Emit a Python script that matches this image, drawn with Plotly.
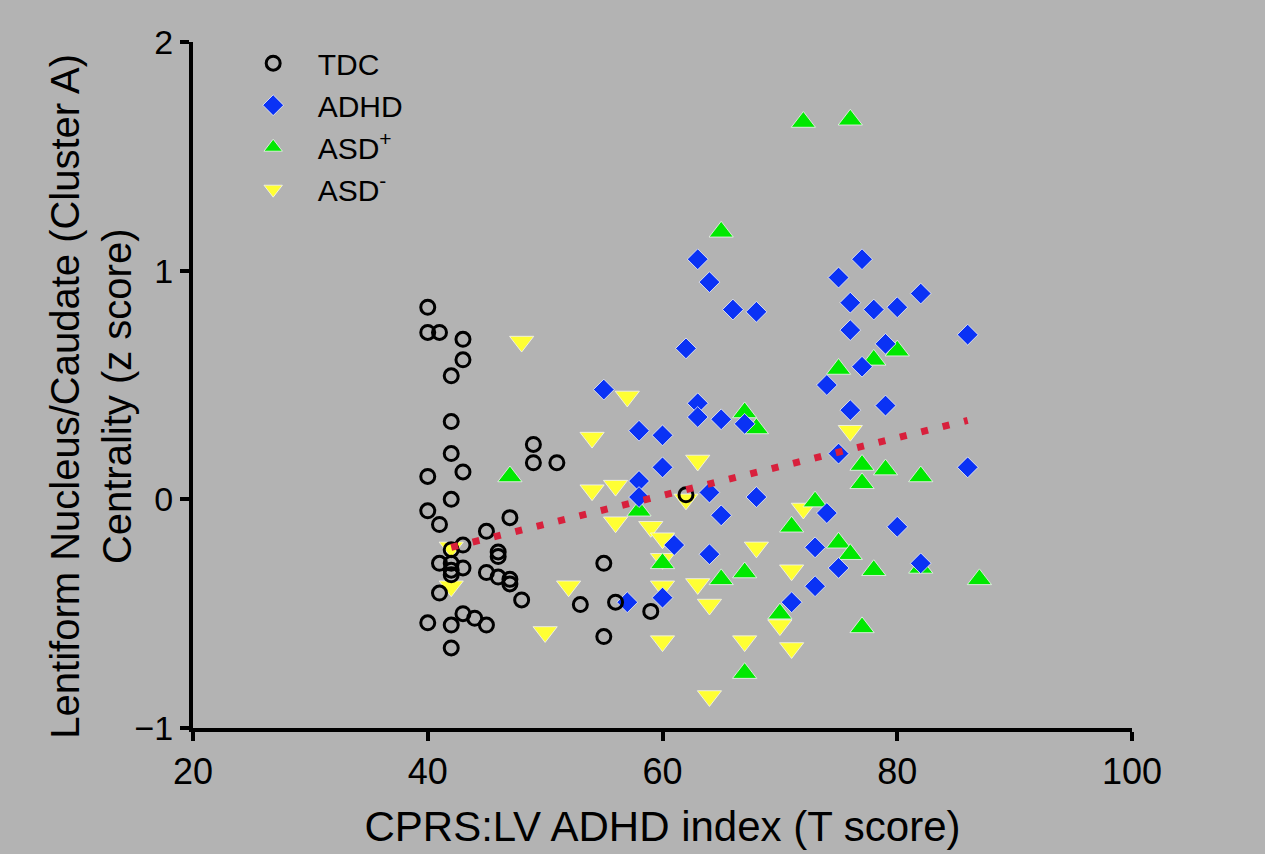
import plotly.graph_objects as go

# ---- data ----
tdc_x = [40, 40, 41, 43, 43, 42, 42, 42, 43, 40, 49, 49, 51, 42, 40, 41, 47, 45, 43, 42,
         46, 46, 41, 42, 43, 42, 42, 45, 46, 47, 47, 41, 48, 43, 44, 45, 40, 42, 42,
         55, 53, 56, 59, 55, 62]
tdc_y = [0.84, 0.73, 0.73, 0.70, 0.61, 0.54, 0.34, 0.20, 0.12, 0.10, 0.24, 0.16, 0.16, 0.00, -0.05, -0.11, -0.08, -0.14, -0.20, -0.22,
         -0.23, -0.25, -0.28, -0.28, -0.30, -0.31, -0.33, -0.32, -0.34, -0.35, -0.37, -0.41, -0.44, -0.50, -0.52, -0.55, -0.54, -0.55, -0.65,
         -0.28, -0.46, -0.45, -0.49, -0.60, 0.02]

adhd_x = [55, 58, 60, 60, 58, 58, 57, 60, 61, 62, 63, 64, 66, 68, 63, 63, 65, 67, 64, 65, 64, 68,
          71, 73, 73, 74, 75, 75, 74, 76, 77, 76, 76, 75, 77, 78, 80, 82, 79, 79, 86, 86, 80, 82]
adhd_y = [0.48, 0.30, 0.28, 0.14, 0.08, 0.01, -0.45, -0.43, -0.20, 0.66, 1.05, 0.95, 0.83, 0.82, 0.42, 0.36, 0.35, 0.33, 0.03, -0.07, -0.24, 0.01,
          -0.45, -0.38, -0.21, -0.06, -0.30, 0.20, 0.50, 0.39, 0.58, 0.74, 0.86, 0.97, 1.05, 0.83, 0.84, 0.90, 0.68, 0.41, 0.72, 0.14, -0.12, -0.28]

asdp_x = [47, 58, 60, 65, 65, 67, 67, 67, 68, 70, 71, 72, 73, 75, 75, 76, 76, 77, 77, 77, 78, 78, 79, 80, 82, 82, 87]
asdp_y = [0.10, -0.05, -0.28, 1.17, -0.35, 0.38, -0.32, -0.76, 0.31, -0.50, -0.12, 1.65, -0.01, 0.57, -0.19, 1.66, -0.24, 0.15, 0.07, -0.56, 0.61, -0.31, 0.13, 0.65, 0.10, -0.30, -0.35]

asdm_x = [42, 42, 48, 50, 52, 54, 54, 56, 56, 57, 59, 60, 60, 60, 60, 62, 63, 63, 64, 64, 67, 68, 70, 71, 71, 72, 76]
asdm_y = [-0.21, -0.38, 0.69, -0.58, -0.38, 0.27, 0.04, 0.06, -0.10, 0.45, -0.12, -0.17, -0.26, -0.38, -0.62, 0.00, 0.17, -0.37, -0.46, -0.86, -0.62, -0.21, -0.55, -0.31, -0.65, -0.04, 0.30]

trend_x = [42, 86]
trend_y = [-0.21, 0.345]

x_ticks = [20, 40, 60, 80, 100]
y_ticks = [-1, 0, 1, 2]

x_title = "CPRS:LV ADHD index (T score)"
y_title = "Lentiform Nucleus/Caudate (Cluster A)<br>Centrality (z score)"

FONT = "Liberation Sans, Arial, sans-serif"
BG = "#b3b3b3"

fig = go.Figure()
fig.add_trace(go.Scatter(x=asdm_x, y=asdm_y, mode="markers", name="ASD<sup>-</sup>",
                         marker=dict(symbol="triangle-down", size=21, color="#ffff33",
                                     line=dict(color="#f4f4f4", width=0.8))))
fig.add_trace(go.Scatter(x=asdp_x, y=asdp_y, mode="markers", name="ASD<sup>+</sup>",
                         marker=dict(symbol="triangle-up", size=21, color="#00e800",
                                     line=dict(color="#f4f4f4", width=0.8))))
fig.add_trace(go.Scatter(x=adhd_x, y=adhd_y, mode="markers", name="ADHD",
                         marker=dict(symbol="diamond", size=16, color="#0a32f5",
                                     line=dict(color="#f4f4f4", width=0.8))))
fig.add_trace(go.Scatter(x=tdc_x, y=tdc_y, mode="markers", name="TDC",
                         marker=dict(symbol="circle-open", size=14, color="black",
                                     line=dict(color="black", width=3))))
fig.add_trace(go.Scatter(x=trend_x, y=trend_y, mode="lines", showlegend=False,
                         line=dict(color="#d8203c", width=7, dash="7px,15px")))

fig.update_layout(
    width=1265, height=854,
    paper_bgcolor=BG, plot_bgcolor=BG,
    margin=dict(l=193, r=133, t=42, b=126),
    font=dict(family=FONT, color="black"),
    showlegend=True,
    legend=dict(x=0.038, y=1.007, xanchor="left", yanchor="top",
                traceorder="reversed", bgcolor="rgba(0,0,0,0)",
                font=dict(size=30, family=FONT), itemsizing="trace",
                itemwidth=79, tracegroupgap=0),
    xaxis=dict(range=[20, 100], tickvals=x_ticks, showgrid=False, zeroline=False,
               showline=True, linecolor="black", linewidth=4,
               ticks="outside", ticklen=9, tickwidth=4, tickcolor="black",
               tickfont=dict(size=36, family=FONT),
               title=dict(text=x_title, font=dict(size=42, family=FONT), standoff=21)),
    yaxis=dict(range=[-1, 2], tickvals=y_ticks, showgrid=False, zeroline=False,
               showline=True, linecolor="black", linewidth=4,
               ticks="outside", ticklen=9, tickwidth=4, tickcolor="black",
               tickfont=dict(size=34, family=FONT)),
    annotations=[dict(text=y_title, xref="paper", yref="paper", x=-0.1086, y=0.483,
                      xanchor="center", yanchor="middle", textangle=-90, showarrow=False,
                      font=dict(size=40, family=FONT, color="black"))],
)

fig.write_html("out.html")
